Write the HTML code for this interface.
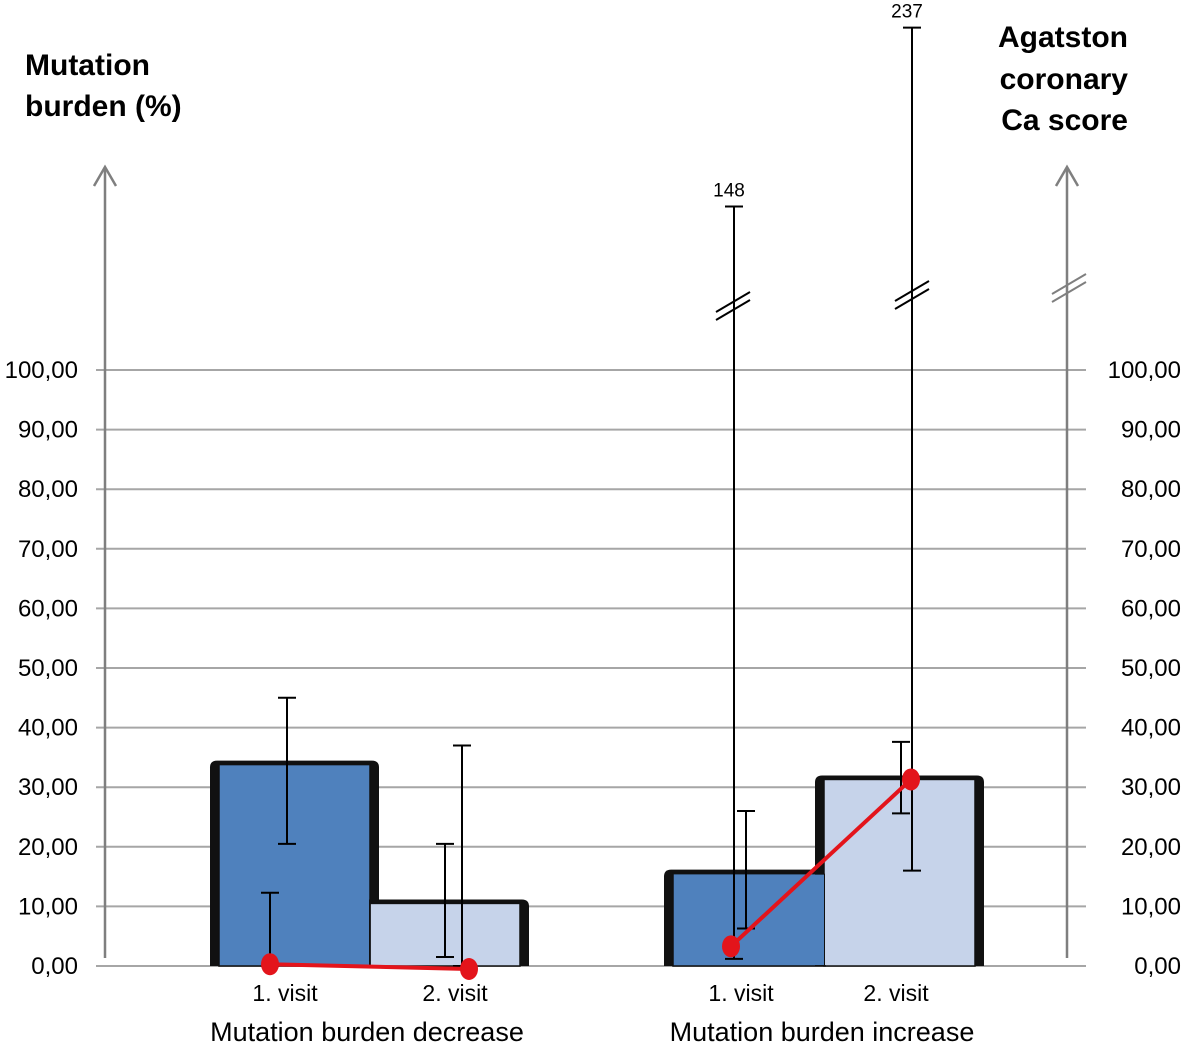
<!DOCTYPE html>
<html><head><meta charset="utf-8"><style>
html,body{margin:0;padding:0;background:#fff;}
svg{display:block;font-family:"Liberation Sans",sans-serif;}
</style></head><body>
<svg id="chart" width="1182" height="1043" viewBox="0 0 1182 1043" xmlns="http://www.w3.org/2000/svg">
<g id="grid"></g>
<g id="bars"></g>
<g id="errs"></g>
<g id="line"></g>
<g id="axes"></g>
<g id="labels"></g>
<text x="25" y="75" font-size="30" font-weight="bold">Mutation</text>
<text x="25" y="116" font-size="30" font-weight="bold">burden (%)</text>
<text x="1128" y="47" font-size="30" font-weight="bold" text-anchor="end">Agatston</text>
<text x="1128" y="89" font-size="30" font-weight="bold" text-anchor="end">coronary</text>
<text x="1128" y="130" font-size="30" font-weight="bold" text-anchor="end">Ca score</text>
</svg>
<script>
const ticks = [0,10,20,30,40,50,60,70,80,90,100];
const tickLabels = ["0,00","10,00","20,00","30,00","40,00","50,00","60,00","70,00","80,00","90,00","100,00"];
const groups = ["Mutation burden decrease","Mutation burden increase"];
const visits = ["1. visit","2. visit"];
const barValues = [34.3, 11.0, 16.0, 31.8];
const barErrLow = [20.5, 1.5, 6.3, 25.6];
const barErrHigh = [45.0, 20.5, 26.0, 37.6];
const caValues = [0.3, -0.5, 3.3, 31.3];
const caErrLow = [0, 0, 1.2, 16.0];
const caErrHigh = [12.3, 37.0, 148, 237];

const NS="http://www.w3.org/2000/svg";
function y(v){return v<=100 ? 966-5.96*v : 303-2.01*(v-100);}
const barLeft=[219,370,673,824], barRight=[370,520,825,975];
function mk(tag,attrs,parent){const e=document.createElementNS(NS,tag);for(const k in attrs)e.setAttribute(k,attrs[k]);document.getElementById(parent).appendChild(e);return e;}

ticks.forEach((t,i)=>{
  const g=mk('line',{x1:96,x2:1086,y1:y(t),y2:y(t),stroke:'#a6a6a6','stroke-width':2},'grid');
  
  
  const l=mk('text',{x:78,y:y(t)+8,'font-size':24,'text-anchor':'end'},'labels');
  l.textContent=tickLabels[i];
  
  
  const r=mk('text',{x:1181,y:y(t)+8,'font-size':24,'text-anchor':'end'},'labels');
  r.textContent=tickLabels[i];
  
  
});

barValues.forEach((v,i)=>{
  const x0=barLeft[i], x1=barRight[i], top=y(v), bot=y(0);
  const fill = i%2===0 ? '#4f81bd' : '#c6d3ea';
  const sh=mk('path',{d:`M${x0-9},${bot} L${x0-9},${top+6} Q${x0-9},${top-1} ${x0-2},${top-1} L${x1+2},${top-1} Q${x1+9},${top-1} ${x1+9},${top+6} L${x1+9},${bot} Z`,fill:'#111'},'bars');
  
  
  const b=mk('rect',{x:x0,y:top+3,width:x1-x0,height:bot-top-3,fill:fill,stroke:'#111','stroke-width':1.5},'bars');
  
  
});
[[0,1],[2,3]].forEach(([a,c])=>{
  const lo = barValues[a]<barValues[c]?a:c;
  const top=y(barValues[lo]);
  const r=mk('rect',{x:barRight[a]-0.75,y:top+3,width:1.5,height:y(0)-top-3,fill:'#111'},'bars');
  
  
});
barValues.forEach((v,i)=>{
  const top=y(v),bot=y(0);
  const fill = i%2===0 ? '#4f81bd' : '#c6d3ea';
  const r=mk('rect',{x:barLeft[i]+1,y:top+4,width:barRight[i]-barLeft[i]-2,height:bot-top-5,fill:fill},'bars');
  
  
});

const barErrX=[287,445,746,901], caX=[270,469,731,911], caErrX=[270,462,734,912];
function errbar(x,lo,hi,name){
  const l=mk('line',{x1:x,x2:x,y1:y(hi),y2:y(lo),stroke:'#000','stroke-width':2},'errs');
  
  
  [lo,hi].forEach(v=>{
    const c=mk('line',{x1:x-9,x2:x+9,y1:y(v),y2:y(v),stroke:'#000','stroke-width':2},'errs');
    
    
  });
}
barValues.forEach((v,i)=>errbar(barErrX[i],barErrLow[i],barErrHigh[i],'bar-error-bar'));
caValues.forEach((v,i)=>errbar(caErrX[i],caErrLow[i],caErrHigh[i],'ca-error-bar'));
[2,3].forEach(i=>{
  const t=mk('text',{x:caErrX[i]-5,y:y(caErrHigh[i])-10,'font-size':19,'text-anchor':'middle'},'labels');
  t.textContent=String(caErrHigh[i]);
  
  
});
[[0,1],[2,3]].forEach(([a,c])=>{
  const l=mk('line',{x1:caX[a],y1:y(caValues[a]),x2:caX[c],y2:y(caValues[c]),stroke:'#e3141b','stroke-width':4},'line');
  
  
});
caValues.forEach((v,i)=>{
  const e=mk('ellipse',{cx:caX[i],cy:y(v),rx:9,ry:11,fill:'#e3141b'},'line');
  
  
});

[105,1067].forEach((x,k)=>{
  const a=mk('line',{x1:x,x2:x,y1:958,y2:168,stroke:'#7f7f7f','stroke-width':2.5},'axes');
  
  
  const h=mk('polyline',{points:`${x-11},186 ${x},167 ${x+11},186`,fill:'none',stroke:'#7f7f7f','stroke-width':2.5},'axes');
  
  
});
[[1069,288,'#7f7f7f'],[733,306,'#000'],[912,295,'#000']].forEach(([x,yy,c])=>{
  [-4,4].forEach(d=>{
    const b=mk('line',{x1:x-17,y1:yy+10+d,x2:x+17,y2:yy-10+d,stroke:c,'stroke-width':2},'axes');
    
    
  });
});
const visitX=[285,455,741,896];
visitX.forEach((x,i)=>{
  const t=mk('text',{x:x,y:1001,'font-size':23,'text-anchor':'middle'},'labels');
  t.textContent=visits[i%2];
  
  
});
[367,822].forEach((x,i)=>{
  const t=mk('text',{x:x,y:1041,'font-size':27,'text-anchor':'middle'},'labels');
  t.textContent=groups[i];
  
  
});
</script>
</body></html>
